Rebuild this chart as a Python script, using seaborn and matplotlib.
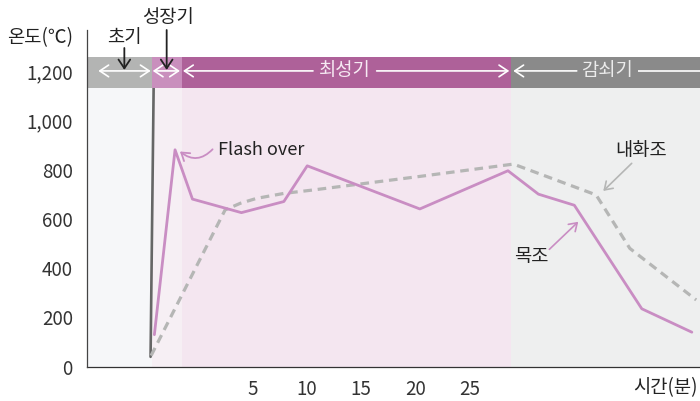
import matplotlib
matplotlib.use("Agg")
import matplotlib.pyplot as plt
import seaborn as sns
import pandas as pd

# ---- data -------------------------------------------------------------
# phase boundaries on the time axis (minutes)
phase_names = ["초기", "성장기", "최성기", "감쇠기"]
phase_edges = [-10.22, -4.25, -1.49, 28.75, 46.15]

# wooden structure (목조)
wood_min = [-4.0, -2.1, -0.5, 4.0, 7.9, 10.05, 20.4, 28.5, 31.3, 34.6, 40.8, 45.4]
wood_temp = [130, 880, 680, 625, 670, 815, 640, 795, 700, 655, 235, 140]

# fire-resistive structure (내화조)
fire_min = [-4.3, 2.5, 3.9, 5.4, 7.9, 10.6, 20.4, 29.0, 36.6, 39.7, 45.8]
fire_temp = [45, 636, 663, 683, 703, 717, 772, 822, 697, 480, 271]

# ignition rise
rise_min = [-4.35, -4.05]
rise_temp = [40, 1200]

x_ticks = [5, 10, 15, 20, 25]
y_major = [0, 200, 400, 600, 800, 1000, 1200]
y_labels = ["0", "200", "400", "600", "800", "1,000", "1,200"]
y_minor = [100, 300, 500, 700, 900, 1100]

# ---- style ------------------------------------------------------------
sns.set_theme(style="white")
plt.rcParams["font.family"] = ["Noto Sans CJK KR", "DejaVu Sans"]
TXT = "#222222"
AXC = "#444444"

bg_colors = ["#f6f7f9", "#f6eff4", "#f4e6f0", "#eeefef"]
band_colors = ["#b3b4b3", "#c98fbd", "#ae6199", "#8a8a8a"]
WOOD = "#c98dc3"
FIRE = "#b5b6b5"

fig = plt.figure(figsize=(7.0, 4.01), dpi=100)
ax = fig.add_axes([86.7 / 700, (401 - 366.7) / 401, (700 - 86.7) / 700, (366.7 - 30) / 401])
ax.set_xlim(phase_edges[0], phase_edges[-1])
ax.set_ylim(0, 1366)

BAND_LO, BAND_HI = 1130, 1258

# phase backgrounds and header band
for i in range(4):
    x0, x1 = phase_edges[i], phase_edges[i + 1]
    ax.fill_between([x0, x1], 0, BAND_LO, color=bg_colors[i], lw=0, zorder=0)
    ax.fill_between([x0, x1], BAND_LO, BAND_HI, color=band_colors[i], lw=0, zorder=5)

# curves
df_w = pd.DataFrame({"min": wood_min, "temp": wood_temp})
df_f = pd.DataFrame({"min": fire_min, "temp": fire_temp})
df_r = pd.DataFrame({"min": rise_min, "temp": rise_temp})
sns.lineplot(data=df_r, x="min", y="temp", ax=ax, color="#666666", lw=1.9,
             sort=False, estimator=None, zorder=3)
sns.lineplot(data=df_f, x="min", y="temp", ax=ax, color=FIRE, lw=2.3,
             sort=False, estimator=None, zorder=3, dashes=False)
ax.lines[-1].set_dashes([2.7, 1.8])
ax.lines[-1].set_solid_capstyle("butt")
sns.lineplot(data=df_w, x="min", y="temp", ax=ax, color=WOOD, lw=2.0,
             sort=False, estimator=None, zorder=4)

# ---- axes -------------------------------------------------------------
for s in ["top", "right"]:
    ax.spines[s].set_visible(False)
ax.spines["left"].set_color(AXC)
ax.spines["bottom"].set_color("#333333")
ax.spines["left"].set_linewidth(0.9)
ax.spines["bottom"].set_linewidth(0.9)
ax.spines["left"].set_zorder(6)

ax.set_yticks(y_major)
ax.set_yticklabels(y_labels)
ax.set_yticks(y_minor, minor=True)
ax.tick_params(axis="y", which="both", direction="in", length=7.6, width=0.8,
               color=AXC, labelsize=13.5, labelcolor="#333333", pad=10)
ax.set_xticks(x_ticks)
ax.set_xticklabels([str(v) for v in x_ticks])
ax.set_xticks(x_ticks, minor=True)
ax.xaxis.remove_overlapping_locs = False
ax.tick_params(axis="x", which="major", direction="in", length=10.8, width=0.8,
               color=AXC, labelsize=13.5, labelcolor="#333333", pad=9)
ax.tick_params(axis="x", which="minor", direction="out", length=4.8, width=0.8,
               color=AXC)
ax.set_xlabel("")
ax.set_ylabel("")

# ---- header band arrows and labels ------------------------------------
BAND_Y = 1200
WHITE = "#ffffff"


def band_arrow(x0, x1, style):
    ax.annotate("", xy=(x1, BAND_Y), xytext=(x0, BAND_Y),
                arrowprops=dict(arrowstyle=style + ",head_length=0.45,head_width=0.3",
                                color=WHITE, lw=1.2, shrinkA=0, shrinkB=0,
                                mutation_scale=14),
                zorder=7)


band_arrow(-9.15, -4.34, "<->")
band_arrow(-4.15, -1.65, "<->")
band_arrow(10.58, -1.37, "->")
band_arrow(16.43, 28.62, "->")
band_arrow(34.82, 28.99, "->")
ax.plot([40.48, 46.2], [BAND_Y, BAND_Y], color=WHITE, lw=1.2, zorder=7,
        clip_on=False, solid_capstyle="butt")
ax.text(13.5, BAND_Y, "최성기", ha="center", va="center", fontsize=13.5,
        color="#f6eaf3", zorder=8)
ax.text(37.6, BAND_Y, "감쇠기", ha="center", va="center", fontsize=13.5,
        color="#ececec", zorder=8)

# phase callouts above the band
ax.text(-6.79, 1335, "초기", ha="center", va="center", fontsize=13.5, color=TXT,
        clip_on=False)
ax.annotate("", xy=(-6.76, 1204), xytext=(-6.76, 1293),
            arrowprops=dict(arrowstyle="->,head_length=0.45,head_width=0.3", color=TXT,
                            lw=1.3, shrinkA=0, shrinkB=0, mutation_scale=14),
            zorder=9, annotation_clip=False)
ax.text(-2.75, 1416, "성장기", ha="center", va="center", fontsize=13.5, color=TXT,
        clip_on=False)
ax.annotate("", xy=(-2.87, 1204), xytext=(-2.87, 1366),
            arrowprops=dict(arrowstyle="->,head_length=0.45,head_width=0.3", color=TXT,
                            lw=1.3, shrinkA=0, shrinkB=0, mutation_scale=14),
            zorder=9, annotation_clip=False)

# curve callouts
ax.text(1.85, 879, "Flash over", ha="left", va="center", fontsize=13, color=TXT)
ax.annotate("", xy=(-1.65, 873), xytext=(1.35, 882),
            arrowprops=dict(arrowstyle="->,head_length=0.45,head_width=0.3", color=WOOD,
                            lw=1.3, shrinkA=0, shrinkB=0, mutation_scale=12,
                            connectionstyle="arc3,rad=-0.45"),
            zorder=9)
ax.text(40.75, 879, "내화조", ha="center", va="center", fontsize=13.5, color=TXT)
ax.annotate("", xy=(37.26, 713), xytext=(39.87, 825),
            arrowprops=dict(arrowstyle="->,head_length=0.45,head_width=0.3", color=FIRE,
                            lw=1.2, shrinkA=0, shrinkB=0, mutation_scale=12),
            zorder=9)
ax.text(30.6, 446, "목조", ha="center", va="center", fontsize=13.5, color=TXT)
ax.annotate("", xy=(34.96, 588), xytext=(32.3, 476),
            arrowprops=dict(arrowstyle="->,head_length=0.45,head_width=0.3", color=WOOD,
                            lw=1.2, shrinkA=0, shrinkB=0, mutation_scale=12),
            zorder=9)

# axis titles
fig.text(40 / 700, 1 - 38 / 401, "온도(℃)", ha="center", va="center",
         fontsize=13.5, color=TXT)
fig.text(665 / 700, 1 - 388 / 401, "시간(분)", ha="center", va="center",
         fontsize=13.5, color=TXT)

fig.savefig("out.png", dpi=100)
